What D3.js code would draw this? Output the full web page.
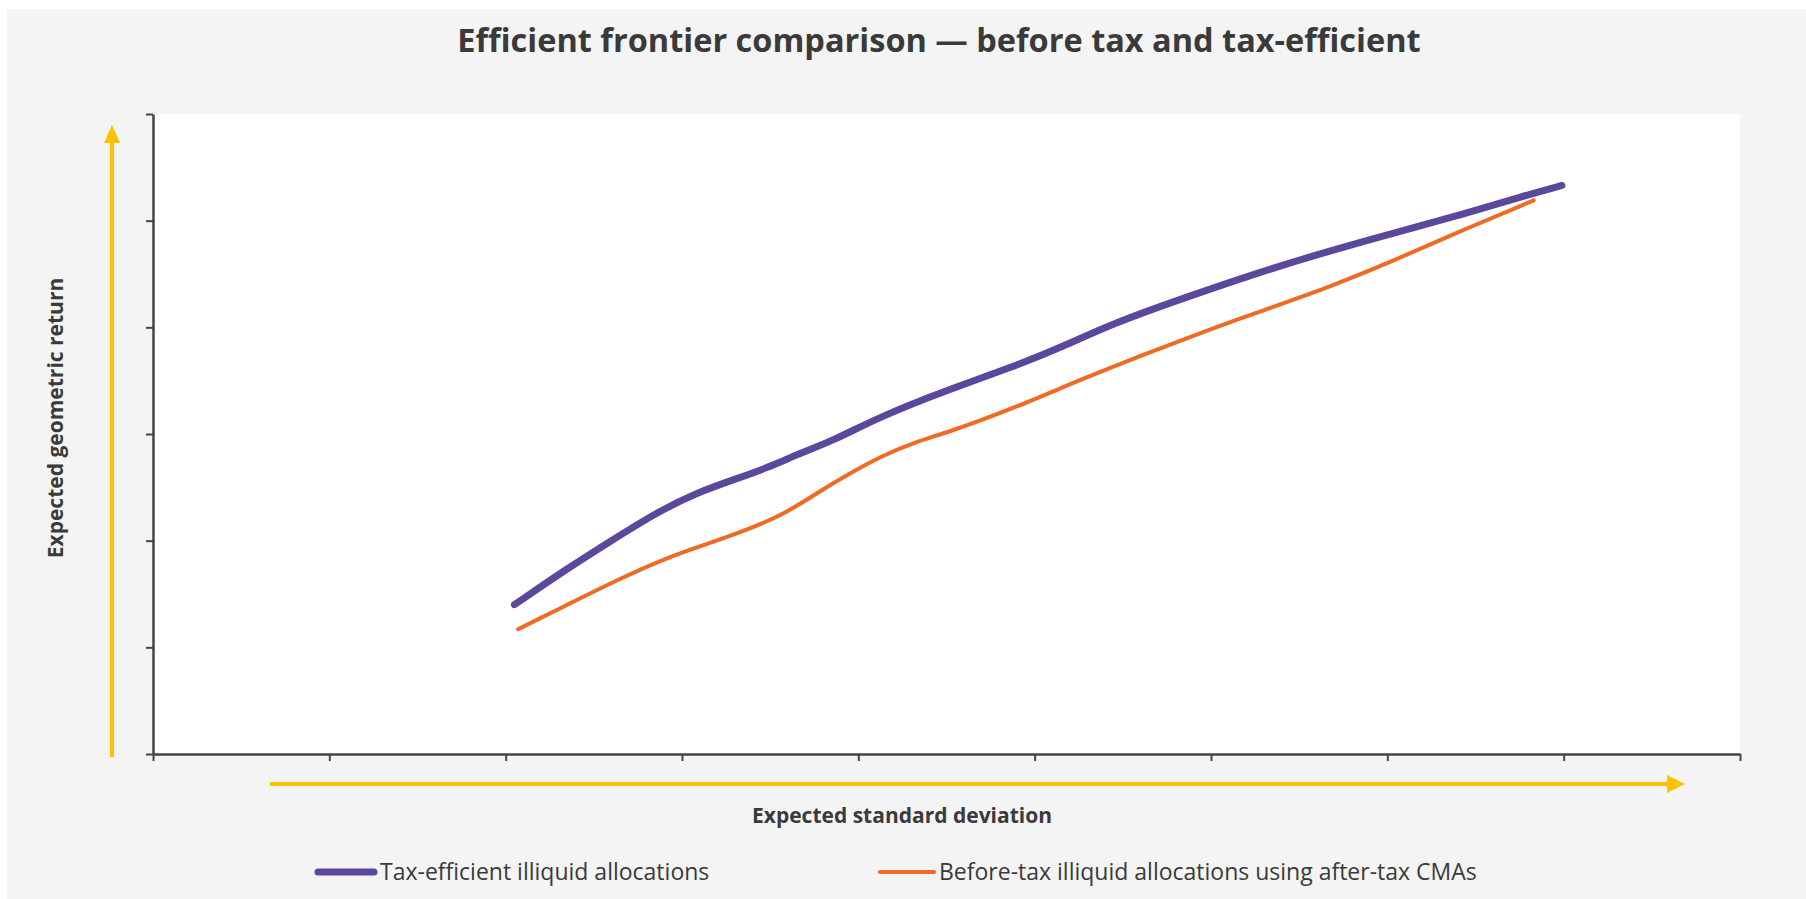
<!DOCTYPE html>
<html>
<head>
<meta charset="utf-8">
<script src="https://cdn.jsdelivr.net/npm/d3@7"></script>
<style>
  html, body { margin: 0; padding: 0; background: #ffffff; }
  svg { display: block; }
  text { font-family: "Open Sans", "Noto Sans", sans-serif; fill: #3a3a3a; }
</style>
</head>
<body>
<script>
// ---- Data (axis units are unlabeled) ----
const titleText = "Efficient frontier comparison \u2014 before tax and tax-efficient";
const xAxisTitle = "Expected standard deviation";
const yAxisTitle = "Expected geometric return";
const seriesNames = ["Tax-efficient illiquid allocations", "Before-tax illiquid allocations using after-tax CMAs"];

const xTicks = [0, 1, 2, 3, 4, 5, 6, 7, 8, 9];
const yTicks = [0, 1, 2, 3, 4, 5, 6];

const taxEfficientRisk   = [2.05, 2.35, 2.59, 2.86, 3.10, 3.29, 3.48, 3.67, 3.86, 4.12, 4.50, 4.88, 5.16, 5.45, 5.82, 6.28, 6.66, 7.03, 7.41, 7.79, 7.99];
const taxEfficientReturn = [1.40, 1.74, 1.99, 2.27, 2.46, 2.57, 2.68, 2.82, 2.94, 3.16, 3.41, 3.63, 3.82, 4.04, 4.26, 4.52, 4.71, 4.88, 5.05, 5.24, 5.33];

const beforeTaxRisk   = [2.07, 2.35, 2.63, 2.91, 3.18, 3.40, 3.59, 3.76, 3.95, 4.14, 4.33, 4.50, 4.88, 5.26, 5.64, 6.01, 6.28, 6.66, 7.03, 7.41, 7.83];
const beforeTaxReturn = [1.17, 1.40, 1.63, 1.84, 1.99, 2.12, 2.26, 2.44, 2.63, 2.80, 2.93, 3.01, 3.24, 3.51, 3.76, 3.99, 4.15, 4.37, 4.62, 4.90, 5.19];

// ---- Layout ----
const W = 1806, H = 899;
const plot = { left: 154, right: 1740, top: 114, bottom: 754 };

const svg = d3.select("body").append("svg").attr("width", W).attr("height", H);

// outer grey panel
svg.append("rect").attr("x", 7).attr("y", 9).attr("width", W - 7).attr("height", H - 9).attr("fill", "#f4f4f4");
// white plot area
svg.append("rect").attr("x", plot.left).attr("y", plot.top)
  .attr("width", plot.right - plot.left).attr("height", plot.bottom - plot.top).attr("fill", "#ffffff");

const x = d3.scaleLinear().domain([0, 9]).range([153, plot.right]);
const y = d3.scaleLinear().domain([0, 6]).range([plot.bottom, plot.top]);

// axes
const axisColor = "#444444";
const xAxis = svg.append("g").attr("transform", `translate(0,${plot.bottom})`)
  .call(d3.axisBottom(x).tickValues(xTicks).tickFormat("").tickSize(7).tickSizeOuter(0));
const yAxis = svg.append("g").attr("transform", `translate(${x(0)},0)`)
  .call(d3.axisLeft(y).tickValues(yTicks).tickFormat("").tickSize(7).tickSizeOuter(0));
[xAxis, yAxis].forEach(g => {
  g.select(".domain").attr("stroke", axisColor).attr("stroke-width", 2.5);
  g.selectAll(".tick line").attr("stroke", axisColor).attr("stroke-width", 2);
});

// yellow arrows
const yellow = "#FFC000";
svg.append("line").attr("x1", 112).attr("x2", 112).attr("y1", 757).attr("y2", 140)
  .attr("stroke", yellow).attr("stroke-width", 4);
svg.append("path").attr("d", "M104,143 L112,125 L120,143 Z").attr("fill", yellow);
svg.append("line").attr("x1", 270).attr("x2", 1670).attr("y1", 784).attr("y2", 784)
  .attr("stroke", yellow).attr("stroke-width", 4);
svg.append("path").attr("d", "M1667,775 L1685,784 L1667,793 Z").attr("fill", yellow);

// lines
const line = d3.line().x(d => x(d[0])).y(d => y(d[1])).curve(d3.curveBasis);
const purpleData = taxEfficientRisk.map((r, i) => [r, taxEfficientReturn[i]]);
const orangeData = beforeTaxRisk.map((r, i) => [r, beforeTaxReturn[i]]);
const purple = "#5B479C", orange = "#EF6A22";

svg.append("path").datum(orangeData).attr("d", line).attr("fill", "none")
  .attr("stroke", orange).attr("stroke-width", 4).attr("stroke-linecap", "round").attr("stroke-linejoin", "round");
svg.append("path").datum(purpleData).attr("d", line).attr("fill", "none")
  .attr("stroke", purple).attr("stroke-width", 7).attr("stroke-linecap", "round").attr("stroke-linejoin", "round");

// title
svg.append("text").attr("x", 939).attr("y", 52).attr("text-anchor", "middle")
  .attr("font-size", 32.5).attr("font-weight", 700).text(titleText);

// axis titles
svg.append("text").attr("x", 902).attr("y", 823).attr("text-anchor", "middle")
  .attr("font-size", 21).attr("font-weight", 700).text(xAxisTitle);
svg.append("text").attr("transform", "translate(63,418) rotate(-90)").attr("text-anchor", "middle")
  .attr("font-size", 21).attr("font-weight", 700).text(yAxisTitle);

// legend
const legend = [
  { name: seriesNames[0], color: purple, width: 7, x1: 318, x2: 374, tx: 380 },
  { name: seriesNames[1], color: orange, width: 4, x1: 880, x2: 934, tx: 939 }
];
legend.forEach(l => {
  svg.append("line").attr("x1", l.x1).attr("x2", l.x2).attr("y1", 872).attr("y2", 872)
    .attr("stroke", l.color).attr("stroke-width", l.width).attr("stroke-linecap", "round");
  svg.append("text").attr("x", l.tx).attr("y", 880).attr("font-size", 23).attr("fill", "#404040").text(l.name);
});
</script>
</body>
</html>
